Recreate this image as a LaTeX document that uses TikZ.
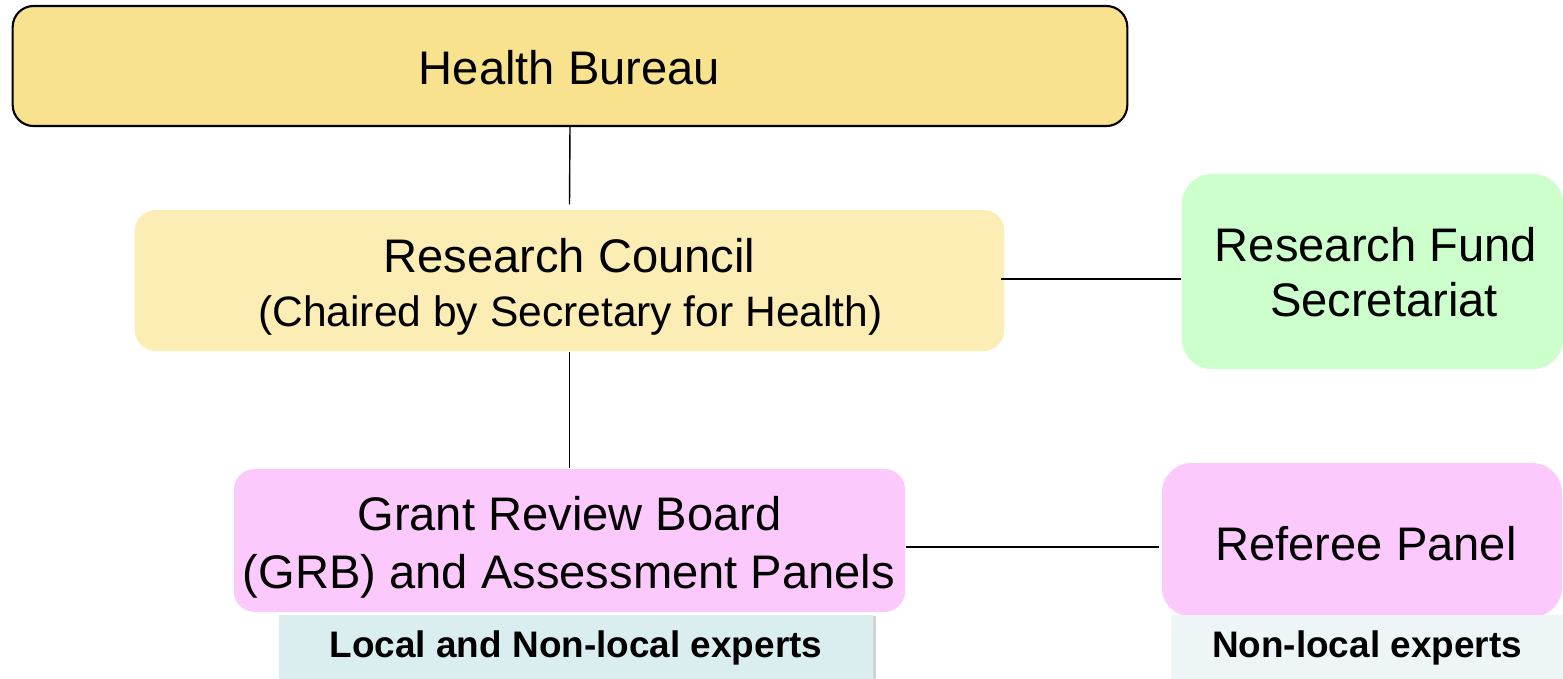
\documentclass[tikz,border=0pt]{standalone}
\usepackage{fontspec}
\setmainfont{Liberation Sans}
\usetikzlibrary{shadows}
\definecolor{hbfill}{HTML}{F9E28E}
\definecolor{rcfill}{HTML}{FCEDB5}
\definecolor{rfsfill}{HTML}{CCFFCC}
\definecolor{pinkfill}{HTML}{FCC9FC}
\definecolor{tagone}{HTML}{DAEDEF}
\definecolor{tagtwo}{HTML}{EDF5F7}
\begin{document}
\begin{tikzpicture}[x=0.01cm,y=-0.01cm,
  box/.style={rounded corners=0.21cm, inner sep=0pt},
  txt/.style={inner sep=0pt, anchor=base, font=\fontsize{13.4}{16}\selectfont},
  subtxt/.style={inner sep=0pt, anchor=base, font=\fontsize{12.1}{15}\selectfont},
  tag/.style={inner sep=0pt,
    drop shadow={shadow xshift=0.7pt, shadow yshift=-0.3pt, opacity=0.35}},
  tagtxt/.style={inner sep=0pt, anchor=base, font=\bfseries\fontsize{10.5}{12}\selectfont},
  link/.style={draw=black, line width=0.4pt}]
\useasboundingbox (0,0) rectangle (1563,678);
\clip (0,0) rectangle (1563,678);
% boxes
\node[box, draw=black, line width=0.6pt, fill=hbfill,
      minimum width=11.14cm, minimum height=1.2cm] (hb) at (570,66) {};
\node[box, fill=rcfill,
      minimum width=8.69cm, minimum height=1.41cm] (rc) at (569.5,280.5) {};
\node[box, fill=rfsfill, rounded corners=0.3cm,
      minimum width=3.81cm, minimum height=1.95cm] (rfs) at (1372.5,271.5) {};
\node[box, fill=pinkfill,
      minimum width=6.71cm, minimum height=1.43cm] (grb) at (569.5,540.5) {};
\node[box, fill=pinkfill, rounded corners=0.3cm,
      minimum width=4.0cm, minimum height=1.54cm] (rp) at (1362,540) {};
% box texts
\node[txt] (hbt) at (569.5,84) {Health Bureau};
\node[txt] (rct1) at (569.5,272) {Research Council};
\node[subtxt] (rct2) at (570.5,326) {(Chaired by Secretary for Health)};
\node[txt] (rfst1) at (1376,261) {Research Fund};
\node[txt] (rfst2) at (1384,316) {Secretariat};
\node[txt] (grbt1) at (569.5,530) {Grant Review Board};
\node[txt] (grbt2) at (569,588) {(GRB) and Assessment Panels};
\node[txt] (rpt) at (1366,560) {Referee Panel};
% expert tags
\node[tag, fill=tagone, minimum width=5.94cm, minimum height=0.66cm] (t1) at (576,648) {};
\node[tag, fill=tagtwo, minimum width=3.92cm, minimum height=0.66cm] (t2) at (1367,648) {};
\node[tagtxt] (t1t) at (576,657) {Local and Non-local experts};
\node[tagtxt] (t2t) at (1367,657) {Non-local experts};
% connectors
\draw[link] (hb.south) -- ([yshift=0.05cm]rc.north);
\draw[link] (rc.south) -- (grb.north);
\draw[link] ([xshift=-0.04cm]rc.east |- 0,279) -- (rfs.west |- 0,279);
\draw[link] (grb.east |- 0,547) -- ([xshift=-0.02cm]rp.west |- 0,547);
\end{tikzpicture}
\end{document}
